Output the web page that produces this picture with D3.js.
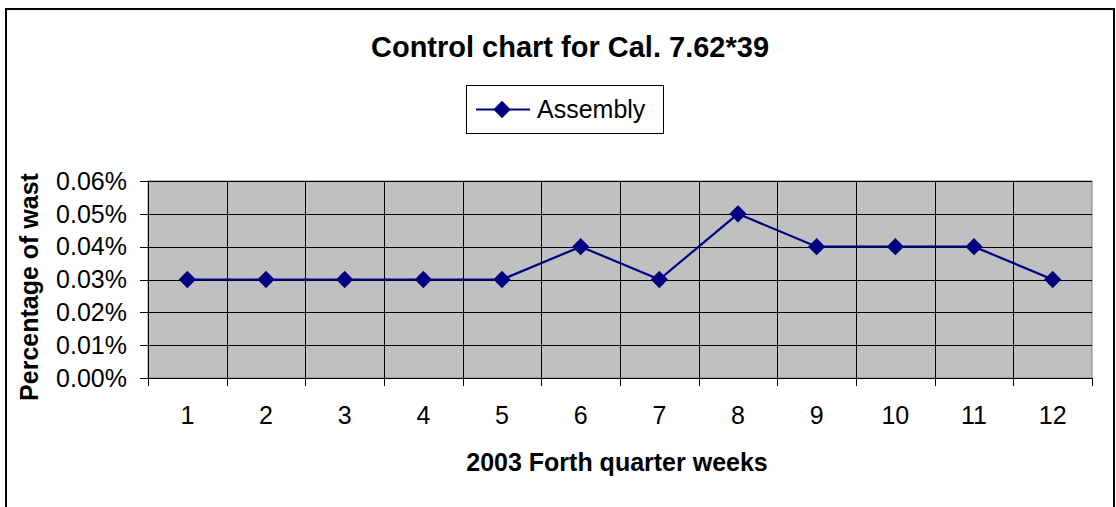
<!DOCTYPE html>
<html>
<head>
<meta charset="utf-8">
<script src="https://cdn.jsdelivr.net/npm/d3@7"></script>
<style>
  body { margin: 0; background: #fff; }
  text { font-family: "Liberation Sans", Arial, sans-serif; fill: #000; }
</style>
</head>
<body>
<svg id="chart" width="1116" height="507"></svg>
<script>
// weeks of the fourth quarter, 2003
const weeks = ["1", "2", "3", "4", "5", "6", "7", "8", "9", "10", "11", "12"];
// share of waste, as a fraction
const assembly = [0.0003, 0.0003, 0.0003, 0.0003, 0.0003, 0.0004, 0.0003, 0.0005, 0.0004, 0.0004, 0.0004, 0.0003];
const yTicks = [0, 0.0001, 0.0002, 0.0003, 0.0004, 0.0005, 0.0006];

const svg = d3.select("#chart");
const plot = { left: 148, right: 1092, top: 181, bottom: 378 };

// outer frame
svg.append("rect")
  .attr("x", 6).attr("y", 9).attr("width", 1108).attr("height", 520)
  .attr("fill", "#fff").attr("stroke", "#000").attr("stroke-width", 2);

const x = d3.scaleBand().domain(weeks).range([plot.left, plot.right]);
const y = d3.scaleLinear().domain([0, 0.0006]).range([plot.bottom, plot.top]);
const fmt = d3.format(".2%");

// plot background
svg.append("rect")
  .attr("x", plot.left).attr("y", plot.top)
  .attr("width", plot.right - plot.left).attr("height", plot.bottom - plot.top)
  .attr("fill", "#c0c0c0").attr("stroke", "#808080").attr("stroke-width", 1);

// horizontal grid + y ticks
svg.append("g").selectAll("line").data(yTicks).join("line")
  .attr("x1", plot.left - 8).attr("x2", plot.right)
  .attr("y1", d => Math.round(y(d)) + 0.5).attr("y2", d => Math.round(y(d)) + 0.5)
  .attr("stroke", "#000").attr("stroke-width", 1);

// vertical grid at category edges
const edges = weeks.map(d => x(d)).concat([plot.right]);
svg.append("g").selectAll("line").data(edges).join("line")
  .attr("x1", d => Math.round(d) + 0.5).attr("x2", d => Math.round(d) + 0.5)
  .attr("y1", (d, i) => i === edges.length - 1 ? plot.bottom : plot.top)
  .attr("y2", plot.bottom + 8)
  .attr("stroke", "#000").attr("stroke-width", 1);

// axis line
svg.append("line")
  .attr("x1", plot.left + 0.5).attr("x2", plot.left + 0.5)
  .attr("y1", plot.top).attr("y2", plot.bottom)
  .attr("stroke", "#000");

// y labels
svg.append("g").selectAll("text").data(yTicks).join("text")
  .attr("x", 127).attr("y", d => y(d))
  .attr("dy", "0.35em").attr("text-anchor", "end")
  .attr("font-size", 25)
  .text(d => fmt(d));

// x labels
svg.append("g").selectAll("text").data(weeks).join("text")
  .attr("x", d => x(d) + x.bandwidth() / 2).attr("y", 424)
  .attr("text-anchor", "middle").attr("font-size", 25)
  .text(d => d);

// series line
const line = d3.line()
  .x((d, i) => x(weeks[i]) + x.bandwidth() / 2)
  .y(d => y(d));
svg.append("path").datum(assembly)
  .attr("d", line).attr("fill", "none")
  .attr("stroke", "#000080").attr("stroke-width", 2.2);

const diamond = d3.symbol().type(d3.symbolDiamond2).size(190);
svg.append("g").selectAll("path").data(assembly).join("path")
  .attr("d", diamond)
  .attr("transform", (d, i) => `translate(${x(weeks[i]) + x.bandwidth() / 2},${y(d)})`)
  .attr("fill", "#000080");

// title
svg.append("text")
  .attr("x", 570).attr("y", 57).attr("text-anchor", "middle")
  .attr("font-size", 29).attr("font-weight", "bold")
  .text("Control chart for Cal. 7.62*39");

// axis titles
svg.append("text")
  .attr("x", 617).attr("y", 471).attr("text-anchor", "middle")
  .attr("font-size", 25).attr("font-weight", "bold")
  .text("2003 Forth quarter weeks");

svg.append("text")
  .attr("transform", "translate(38,287) rotate(-90)")
  .attr("text-anchor", "middle")
  .attr("font-size", 25).attr("font-weight", "bold")
  .text("Percentage of wast");

// legend
const lg = svg.append("g");
lg.append("rect")
  .attr("x", 466.5).attr("y", 85.5).attr("width", 197).attr("height", 48)
  .attr("fill", "#fff").attr("stroke", "#000").attr("stroke-width", 1);
lg.append("line")
  .attr("x1", 476).attr("x2", 530).attr("y1", 109.5).attr("y2", 109.5)
  .attr("stroke", "#000080").attr("stroke-width", 2.2);
lg.append("path")
  .attr("d", diamond)
  .attr("transform", "translate(502,109.5)")
  .attr("fill", "#000080");
lg.append("text")
  .attr("x", 537).attr("y", 109.5).attr("dy", "0.35em")
  .attr("font-size", 25)
  .text("Assembly");
</script>
</body>
</html>
